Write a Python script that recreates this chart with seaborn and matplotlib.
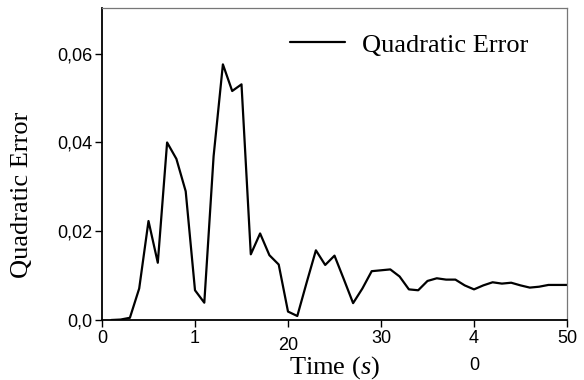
import numpy as np
import pandas as pd
import seaborn as sns
import matplotlib
matplotlib.use("Agg")
import matplotlib.pyplot as plt
from matplotlib.transforms import ScaledTranslation

time_s = list(range(1, 51))
quad_error = [0.0000, 0.0001, 0.0005, 0.0071, 0.0223, 0.0129, 0.0400, 0.0363, 0.0290, 0.0067,
              0.0039, 0.0369, 0.0576, 0.0516, 0.0531, 0.0148, 0.0195, 0.0146, 0.0125, 0.0019,
              0.0009, 0.0084, 0.0157, 0.0124, 0.0145, 0.0092, 0.0038, 0.0071, 0.0110, 0.0112,
              0.0114, 0.0098, 0.0069, 0.0067, 0.0088, 0.0094, 0.0091, 0.0091, 0.0078, 0.0069,
              0.0078, 0.0085, 0.0082, 0.0084, 0.0078, 0.0073, 0.0075, 0.0079, 0.0079, 0.0079]
x_ticks = [0, 10, 20, 30, 40, 50]
x_tick_labels = ["0", "1", "20", "30", "4\n0", "50"]
y_ticks = [0.0, 0.02, 0.04, 0.06]
y_tick_labels = ["0,0", "0,02", "0,04", "0,06"]
series_name = "Quadratic Error"

df = pd.DataFrame({"Time": time_s, series_name: quad_error})

sns.set_theme(style="white")
plt.rcParams["font.family"] = ["Liberation Sans", "DejaVu Sans"]
plt.rcParams["text.color"] = "black"
plt.rcParams["mathtext.fontset"] = "custom"
plt.rcParams["mathtext.it"] = "Liberation Serif:italic"
plt.rcParams["mathtext.rm"] = "Liberation Serif"

fig = plt.figure(figsize=(5.84, 3.80), dpi=100)
ax = fig.add_axes([102 / 584, 1 - 320 / 380, 465 / 584, 312 / 380])

sns.lineplot(data=df, x="Time", y=series_name, color="black", linewidth=1.6,
             ax=ax, label=series_name)

ax.set_xlim(0, 50)
ax.set_ylim(0, 0.0703)
ax.set_xticks(x_ticks)
ax.set_xticklabels(x_tick_labels)
ax.set_yticks(y_ticks)
ax.set_yticklabels(y_tick_labels)
ax.tick_params(axis="both", direction="out", length=5, width=1, color="black",
               labelsize=13, labelcolor="black", pad=2, bottom=True, left=True)

for side in ["left", "bottom"]:
    ax.spines[side].set_color("black")
    ax.spines[side].set_linewidth(1.3)
for side in ["top", "right"]:
    ax.spines[side].set_color("#777777")
    ax.spines[side].set_linewidth(0.9)

labels = ax.get_xticklabels()
labels[2].set_transform(labels[2].get_transform() + ScaledTranslation(0, -5 / 72, fig.dpi_scale_trans))
labels[4].set_linespacing(1.8)

ax.set_xlabel("Time ($\\mathit{s}$)", fontsize=19, family="Liberation Serif", color="black")
ax.set_ylabel("Quadratic Error", fontsize=19, family="Liberation Serif", color="black")
ax.xaxis.set_label_coords(0.5, -0.11)
ax.yaxis.set_label_coords(-0.172, 0.40)
ax.yaxis.label.set_va("center")

leg = ax.legend(loc="center left", bbox_to_anchor=((290 - 102) / 465, (320 - 45) / 312),
                frameon=False, borderaxespad=0, borderpad=0,
                handlelength=2.1, handletextpad=0.62,
                prop={"family": "Liberation Serif", "size": 19})
for t in leg.get_texts():
    t.set_color("black")

fig.savefig("out.png", dpi=100)
